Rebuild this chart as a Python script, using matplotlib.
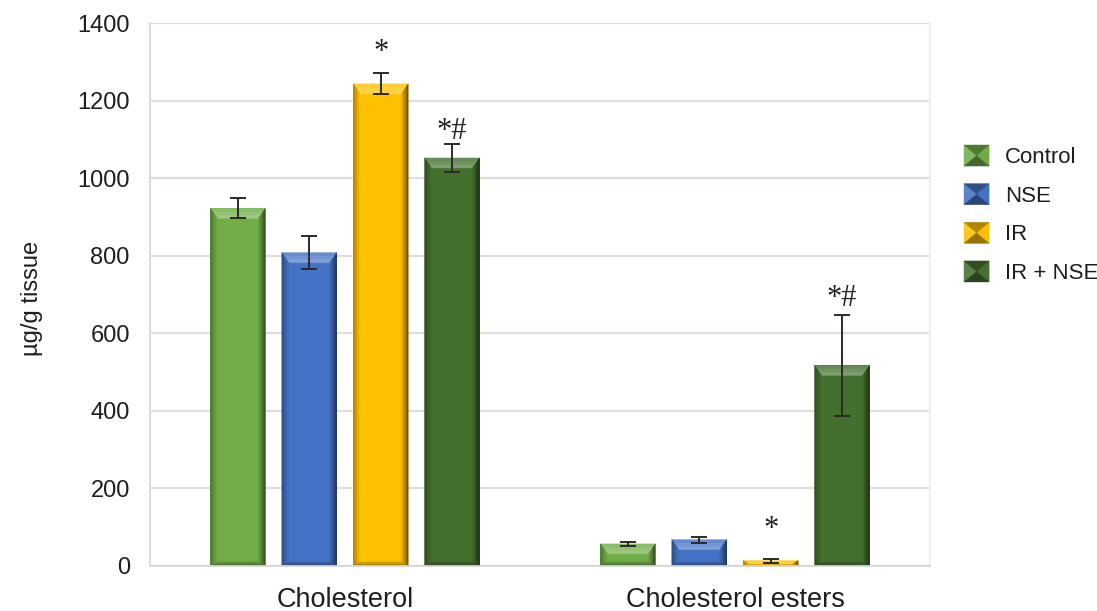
import matplotlib
matplotlib.use("Agg")
import matplotlib.pyplot as plt
import numpy as np
from matplotlib.patches import Polygon, Patch
from matplotlib.legend_handler import HandlerBase
from matplotlib.colors import to_rgb

# ---- data -------------------------------------------------------------
categories = ["Cholesterol", "Cholesterol esters"]
groups = ["Control", "NSE", "IR", "IR + NSE"]

control_vals = [922, 57]
control_err = [26, 6]
nse_vals = [808, 68]
nse_err = [43, 8]
ir_vals = [1243, 14]
ir_err = [27, 5]
irnse_vals = [1052, 517]
irnse_err = [35, 130]

ir_marks = ["*", "*"]
irnse_marks = ["*#", "*#"]

yticks = [0, 200, 400, 600, 800, 1000, 1200, 1400]

colors = ["#70ad47", "#4472c4", "#ffc000", "#44702e"]

# ---- helpers ----------------------------------------------------------
def mix(c, other, t):
    c = np.array(to_rgb(c)); o = np.array(to_rgb(other))
    return tuple(c * (1 - t) + o * t)


def facet_strips(ax, P0, P1, Q0, Q1, c_out, c_in, n=5, z=2):
    """Fill the quad between an outer edge P0-P1 and an inner edge Q0-Q1
    with n strips shading from c_out to c_in."""
    P0, P1, Q0, Q1 = map(np.asarray, (P0, P1, Q0, Q1))
    for k in range(n):
        t0, t1 = k / n, (k + 1) / n
        pts = [P0 + (Q0 - P0) * t0, P1 + (Q1 - P1) * t0,
               P1 + (Q1 - P1) * t1, P0 + (Q0 - P0) * t1]
        tc = (k + 0.5) / n
        col = tuple(np.array(c_out) * (1 - tc) + np.array(c_in) * tc)
        ax.add_patch(Polygon(pts, closed=True, facecolor=col,
                             edgecolor=col, linewidth=0.3, zorder=z))


def bevel_bar(ax, xc, w, h, color, sx, sy, bx_px=7, bt_px=10, bb_px=4):
    L, R, B, T = xc - w / 2, xc + w / 2, 0.0, h
    h_px = h * sy
    bt, bb = bt_px, bb_px
    if bt + bb > h_px:
        f = h_px / (bt + bb)
        bt, bb = bt * f, bb * f
    bx = bx_px / sx
    bt /= sy
    bb /= sy
    base = to_rgb(color)
    ax.add_patch(plt.Rectangle((L, B), R - L, T - B, facecolor=base,
                               edgecolor="none", zorder=2))
    # top (lighter roof)
    facet_strips(ax, (L, T), (R, T), (L + bx, T - bt), (R - bx, T - bt),
                 mix(base, "white", 0.15), mix(base, "white", 0.35), n=3)
    # left side
    facet_strips(ax, (L, B), (L, T), (L + bx, B + bb), (L + bx, T - bt),
                 mix(base, "black", 0.35), base, n=5)
    # right side
    facet_strips(ax, (R, B), (R, T), (R - bx, B + bb), (R - bx, T - bt),
                 mix(base, "black", 0.6), mix(base, "black", 0.05), n=5)
    # bottom
    facet_strips(ax, (L, B), (R, B), (L + bx, B + bb), (R - bx, B + bb),
                 mix(base, "black", 0.45), mix(base, "black", 0.1), n=2)


class BevelSquareHandler(HandlerBase):
    def create_artists(self, legend, orig_handle, xdescent, ydescent,
                       width, height, fontsize, trans):
        base = to_rgb(orig_handle.get_facecolor())
        x0, y0 = -xdescent, -ydescent
        x1, y1 = x0 + width, y0 + height
        cx, cy = (x0 + x1) / 2, (y0 + y1) / 2
        tris = [
            ([(x0, y0), (x0, y1), (cx, cy)], mix(base, "white", 0.12)),
            ([(x1, y0), (x1, y1), (cx, cy)], base),
            ([(x0, y1), (x1, y1), (cx, cy)], mix(base, "black", 0.3)),
            ([(x0, y0), (x1, y0), (cx, cy)], mix(base, "black", 0.4)),
        ]
        arts = []
        for pts, col in tris:
            p = Polygon(pts, closed=True, facecolor=col, edgecolor=col,
                        linewidth=0.3, transform=trans)
            arts.append(p)
        return arts


# ---- figure -----------------------------------------------------------
plt.rcParams["font.family"] = ["Liberation Sans", "DejaVu Sans"]
W, H = 1097, 611
fig = plt.figure(figsize=(W / 100, H / 100), dpi=100)
ax = fig.add_axes([150 / W, 1 - 566 / H, 780 / W, 543 / H])
ax.set_xlim(-0.5, 1.5)
ax.set_ylim(0, 1400)

p = ax.transData.transform([[0, 0], [1, 1]])
sx, sy = p[1, 0] - p[0, 0], p[1, 1] - p[0, 1]

vals = [control_vals, nse_vals, ir_vals, irnse_vals]
errs = [control_err, nse_err, ir_err, irnse_err]
x = np.arange(len(categories))
step, width = 0.183, 0.141
offsets = (np.arange(len(groups)) - 1.5) * step

for gi in range(len(groups)):
    xs = x + offsets[gi]
    for xi, v in zip(xs, vals[gi]):
        bevel_bar(ax, xi, width, v, colors[gi], sx, sy)
    ax.errorbar(xs, vals[gi], yerr=errs[gi], fmt="none", ecolor="#2b2b2b",
                elinewidth=1.4, capsize=5.8, capthick=1.4, zorder=5)

# significance marks (pixel offsets above the error-bar tops)
mark_sets = [(2, ir_marks, [21, 29]), (3, irnse_marks, [13, 17])]
for gi, marks, offs in mark_sets:
    for ci, m in enumerate(marks):
        top = vals[gi][ci] + errs[gi][ci]
        ax.annotate(m, (x[ci] + offsets[gi], top), xytext=(0, offs[ci]),
                    textcoords="offset pixels", ha="center", va="center",
                    fontsize=22, family="Liberation Serif", color="#222222",
                    zorder=6)

# axes styling
ax.set_yticks(yticks)
ax.set_xticks(x)
ax.set_xticklabels(categories, fontsize=19.5, color="#1e1e1e")
ax.tick_params(axis="y", length=0, pad=14.5, labelsize=17, labelcolor="#1e1e1e")
ax.tick_params(axis="x", length=0, pad=15)
ax.grid(axis="y", color="#e2ddd9", linewidth=1.6, zorder=0)
ax.set_axisbelow(True)
ax.spines["top"].set_visible(False)
ax.spines["left"].set_color("#dcd8d5")
ax.spines["right"].set_color("#f0eeec")
ax.spines["bottom"].set_color("#d6d6d6")
for s in ("left", "right", "bottom"):
    ax.spines[s].set_linewidth(1.3)

ax.set_ylabel("µg/g tissue", fontsize=17, color="#1e1e1e")
ax.yaxis.set_label_coords(-0.137, 0.492)

handles = [Patch(facecolor=c, label=g) for c, g in zip(colors, groups)]
leg = fig.legend(handles=handles, loc="upper left",
                 bbox_to_anchor=(964 / W, 1 - 145 / H),
                 frameon=False, fontsize=16, borderpad=0, borderaxespad=0,
                 handlelength=1.13, handleheight=1.08, handletextpad=0.72,
                 labelspacing=0.70,
                 handler_map={Patch: BevelSquareHandler()})
for t in leg.get_texts():
    t.set_color("#1e1e1e")

fig.savefig("out.png", dpi=100)
